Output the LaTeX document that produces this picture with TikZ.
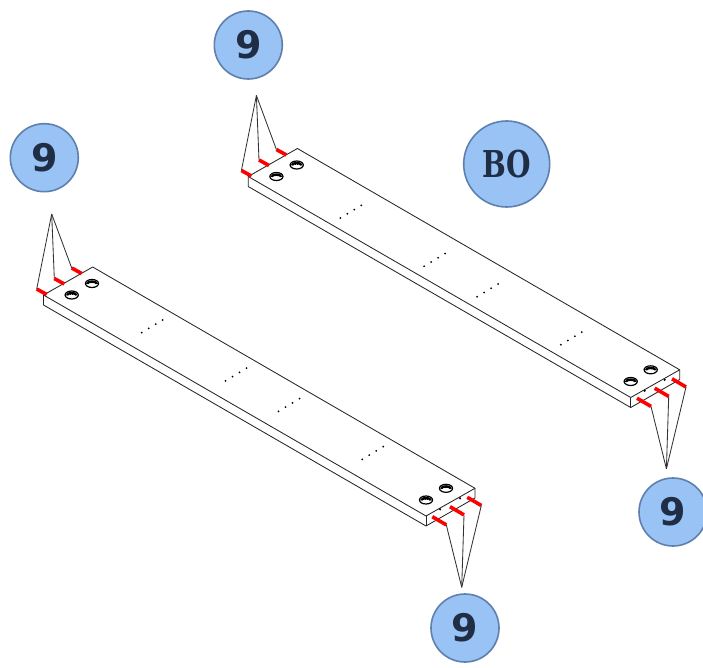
\documentclass[tikz,border=0pt]{standalone}
\usepackage{fontspec}
\newfontfamily\ninefont{DejaVu Sans}
\newfontfamily\labelfont{DejaVu Serif}
\usepackage{tikz}

\definecolor{badgefill}{HTML}{99C2F5}
\definecolor{badgeline}{HTML}{5F80AC}
\definecolor{badgetext}{HTML}{1F2E45}

\begin{document}
\begin{tikzpicture}[x=1pt,y=-1pt]
    % --- DEFINE STYLES ---
    % Style for the numbered callouts
    \tikzstyle{badge} = [circle, draw=badgeline, fill=badgefill, line width=1.6pt, inner sep=0pt, text=badgetext, minimum size=68pt, font=\ninefont\bfseries\fontsize{38}{38}\selectfont]
    % Style for the bar outline
    \tikzstyle{barline} = [black!85, line width=0.85pt, line join=round]
    % Style for the red marks
    \tikzstyle{redmark} = [red, line width=3.6pt]
    % Style for the leaders
    \tikzstyle{leader} = [black!80, line width=0.85pt]

    \useasboundingbox (0,0) rectangle (703,668);

    % --- DRAW THE TWO BARS ---
    \foreach \b/\dx/\dy/\ddx/\ddy in {lo/0/0/0/0, up/204.7/-118.5/-6.1/3.9} {
        \begin{scope}[shift={(\dx,\dy)}]
            % Top face and thickness
            \draw[barline] (43.5,295) -- (92.7,267) -- (475,488.3) -- (426,516) -- cycle;
            \draw[barline] (43.5,295) -- (43.5,305) -- (426,526) -- (475,498) -- (475,488.3);
            \draw[barline] (426,516) -- (426,526);

            % Holes
            \foreach \hx/\hy in {92/283.5, 71.7/295, 446/488.3, 426/500} {
                \draw[black, line width=1.2pt, fill=white] (\hx,\hy) ellipse [x radius=6.6, y radius=4];
                \fill[black] (\hx-6,\hy+0.3) arc [start angle=180, end angle=360, x radius=6, y radius=3.4] -- (\hx+3.6,\hy+0.6) arc [start angle=0, end angle=-180, x radius=3.6, y radius=1.2] -- cycle;
                \draw[black, line width=1.3pt, dash pattern=on 1.2pt off 0.8pt] (\hx-3.5,\hy-1) -- (\hx+3.5,\hy-1);
            }

            % Small holes on the end face
            \fill[black] (440,509.3) circle (1.2);
            \fill[black] (460,498.3) circle (1.2);

            % Rows of dots along the bar
            \foreach \cx/\cy in {152.2/326.3, 236/374.5, 289/405, 372.7/453} {
                \foreach \i in {-1.5,-0.5,0.5,1.5} {
                    \fill[black] (\cx+\i*7+\ddx,\cy-\i*4.2+\ddy) circle (1);
                }
            }

            % Named ends of the leaders
            \coordinate (\b-apexa) at (51.7,214);
            \coordinate (\b-apexb) at (461.7,587.3);

            % Red marks at the near end
            \foreach \n/\xa/\ya in {1/36.7/289, 2/54.3/278.5, 3/71.7/268} {
                \coordinate (\b-a\n) at (\xa,\ya);
                \coordinate (\b-aa\n) at (\xa+10,\ya+5.5);
                \draw[redmark] (\b-a\n) -- (\b-aa\n);
                \draw[leader] (\b-apexa) -- (\b-a\n);
            }

            % Red marks at the far end
            \foreach \n/\xa/\ya in {1/432.3/516.7, 2/450/506.7, 3/467.3/497.3} {
                \coordinate (\b-c\n) at (\xa,\ya);
                \coordinate (\b-d\n) at (\xa+14,\ya+8.2);
                \draw[redmark] (\b-c\n) -- (\b-d\n);
                \draw[leader] (\b-apexb) -- (\b-d\n);
            }
        \end{scope}
    }

    % --- DRAW THE CALLOUTS ---
    \node[badge] (nineleft) at (44.3,157.7) {9};
    \node[badge] (ninetop) at (248.3,45) {9};
    \node[badge, minimum size=86pt, font=\labelfont\bfseries\fontsize{37}{37}\selectfont] (bo) at (506.7,164) {\scalebox{0.76}[1]{BO}};
    \node[badge] (nineright) at (673,512) {9};
    \node[badge] (ninebottom) at (465,628) {9};
\end{tikzpicture}
\end{document}
